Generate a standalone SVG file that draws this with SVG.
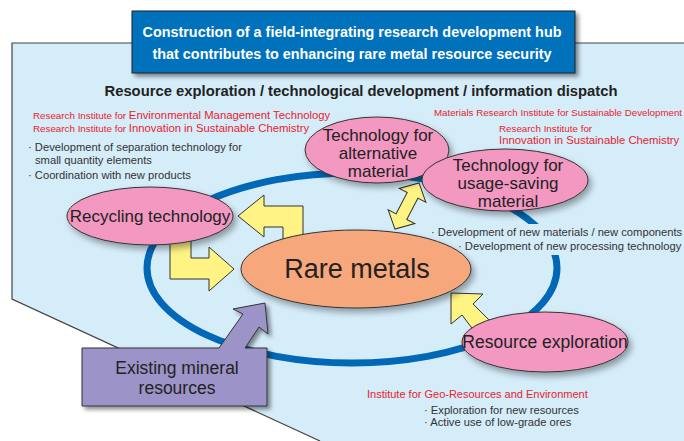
<svg xmlns="http://www.w3.org/2000/svg" width="684" height="441" viewBox="0 0 684 441">
<defs>
<filter id="sh" x="-20%" y="-20%" width="150%" height="160%">
<feDropShadow dx="3" dy="4" stdDeviation="3" flood-color="#000" flood-opacity="0.35"/>
</filter>
<filter id="sh2" x="-10%" y="-20%" width="130%" height="160%">
<feDropShadow dx="3" dy="3" stdDeviation="2" flood-color="#000" flood-opacity="0.45"/>
</filter>
<style>
.node{fill:#f298c1;stroke:#333;stroke-width:1;filter:url(#sh)}
.nt{font-family:"Liberation Sans",Arial,sans-serif;font-size:17px;fill:#222;text-anchor:middle}
.red{font-family:"Liberation Sans",Arial,sans-serif;fill:#e8232e;font-size:11.3px}
.red .s{font-size:9.8px}
.gr{font-family:"Liberation Sans",Arial,sans-serif;fill:#333;font-size:11.2px}
.ya{fill:#fff384;stroke:#333;stroke-width:1;stroke-linejoin:miter}
</style>
</defs>
<rect width="684" height="441" fill="#fff"/>
<!-- panel -->
<polygon points="12,43 684,43 684,441 320,441 12,299" fill="#d5ecf9"/>
<polyline points="684,43 12,43 12,299 320,441" fill="none" stroke="#444" stroke-width="1.2"/>

<!-- title -->
<g id="title">
<rect x="132" y="11" width="443" height="62" fill="#0071bb" stroke="#222" stroke-width="1" filter="url(#sh2)"/>
<text x="352" y="37" font-family="Liberation Sans,Arial,sans-serif" font-weight="bold" font-size="14.4" fill="#fff" text-anchor="middle">Construction of a field-integrating research development hub</text>
<text x="352" y="59" font-family="Liberation Sans,Arial,sans-serif" font-weight="bold" font-size="14.4" fill="#fff" text-anchor="middle">that contributes to enhancing rare metal resource security</text>
</g>
<text x="361" y="96" font-family="Liberation Sans,Arial,sans-serif" font-weight="bold" font-size="14.8" fill="#222" text-anchor="middle">Resource exploration / technological development / information dispatch</text>

<!-- connectors -->
<g id="connectors">
<ellipse cx="352" cy="268" rx="205" ry="95" fill="none" stroke="#0068b6" stroke-width="7"/>
<!-- text background covering ring -->
<rect x="428" y="224" width="256" height="31" fill="#d5ecf9"/>
<!-- arrow rare metals -> recycling -->
<polygon class="ya" points="238,216 264,195 264,206 303,206 303,245 283,245 283,227 264,227 264,237"/>
<!-- arrow recycling -> rare metals -->
<polygon class="ya" points="170,230 191,230 191,258 209,258 209,247 234,269 209,291 209,279 170,279"/>
<!-- double arrow -->
<g transform="translate(407,206) rotate(-62.4)">
<polygon class="ya" points="-26,0 -12,-15 -12,-6 12,-6 12,-15 26,0 12,15 12,6 -12,6 -12,15"/>
</g>
<!-- arrow resource exploration -> rare metals -->
<polygon class="ya" points="451,293 483,294 473,304 500,331 484,344 462,315 451,324"/>
</g>

<g id="rare-metals">
<ellipse cx="356" cy="269" rx="115" ry="39" fill="#f6a77b" stroke="#333" stroke-width="1" filter="url(#sh)"/>
<text x="357" y="278" font-family="Liberation Sans,Arial,sans-serif" font-size="27" fill="#222" text-anchor="middle">Rare metals</text>
</g>

<g id="recycling">
<ellipse class="node" cx="150" cy="216" rx="83" ry="29"/>
<text class="nt" x="150" y="222">Recycling technology</text>
</g>

<g id="alt-material">
<ellipse class="node" cx="377" cy="150" rx="72" ry="33"/>
<text class="nt" x="378" y="141">Technology for</text>
<text class="nt" x="378" y="159">alternative</text>
<text class="nt" x="378" y="177">material</text>
</g>

<g id="usage-saving">
<ellipse class="node" cx="505" cy="180" rx="83" ry="31"/>
<text class="nt" x="508" y="171">Technology for</text>
<text class="nt" x="508" y="189">usage-saving</text>
<text class="nt" x="508" y="207">material</text>
</g>

<g id="resource-exploration">
<ellipse class="node" cx="545" cy="342" rx="83" ry="30"/>
<text class="nt" x="545" y="348" style="font-size:17.5px">Resource exploration</text>
</g>

<g id="existing-mineral">
<polygon points="82,348 219,348 243,314 233,309 265,303 268,334 259,327 245,348 267,348 267,406 82,406" fill="#9c94c8" stroke="#333" stroke-width="1" filter="url(#sh2)"/>
<text x="177" y="374" font-family="Liberation Sans,Arial,sans-serif" font-size="17.5" fill="#222" text-anchor="middle">Existing mineral</text>
<text x="177" y="394" font-family="Liberation Sans,Arial,sans-serif" font-size="17.5" fill="#222" text-anchor="middle">resources</text>
</g>

<!-- annotations -->
<text class="red" x="33" y="119"><tspan class="s">Research Institute for </tspan>Environmental Management Technology</text>
<text class="red" x="33" y="132"><tspan class="s">Research Institute for </tspan>Innovation in Sustainable Chemistry</text>
<text class="gr" x="28" y="151">· Development of separation technology for</text>
<text class="gr" x="35" y="164">small quantity elements</text>
<text class="gr" x="28" y="179">· Coordination with new products</text>

<text class="red" x="434" y="116" style="font-size:9.6px" textLength="248" lengthAdjust="spacingAndGlyphs">Materials Research Institute for Sustainable Development</text>
<text class="red" x="499" y="132"><tspan class="s">Research Institute for</tspan></text>
<text class="red" x="499" y="144">Innovation in Sustainable Chemistry</text>

<text class="gr" x="431" y="236">· Development of new materials / new components</text>
<text class="gr" x="458" y="250">· Development of new processing technology</text>

<text class="red" x="367" y="398" style="font-size:11px">Institute for Geo-Resources and Environment</text>
<text class="gr" x="424" y="414">· Exploration for new resources</text>
<text class="gr" x="424" y="426">· Active use of low-grade ores</text>
</svg>
